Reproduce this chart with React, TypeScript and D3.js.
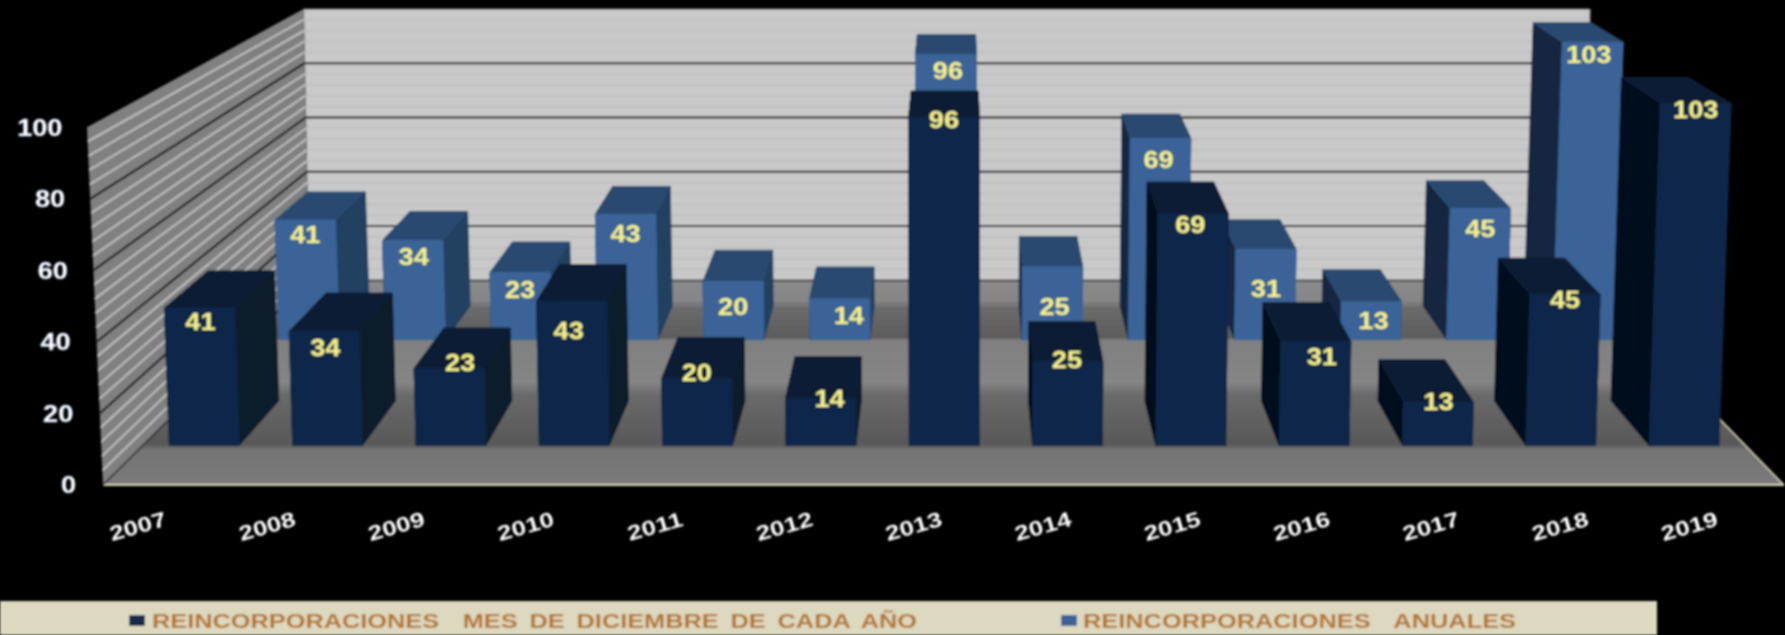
import React from "react";
import * as d3 from "d3";

const years = ["2007","2008","2009","2010","2011","2012","2013","2014","2015","2016","2017","2018","2019"];
const diciembre = [41,34,23,43,20,14,96,25,69,31,13,45,103];
const anuales = [41,34,23,43,20,14,96,25,69,31,13,45,103];
const yTicks = [0,20,40,60,80,100];
const legendLabels = ["REINCORPORACIONES  MES DE DICIEMBRE DE CADA AÑO","REINCORPORACIONES  ANUALES"];

// label nudges relative to the bar's front-face top centre
const frontDx = [1,1,11,-3,0,9,0,-1,-3,6,0,0,0];
const frontDy = [14,16,-6,29,-6,0,2,-2,11,15,0,5,6];
const backDx = [0,1,0,0,0,9,2,2,-2,0,2,0,-4];
const backDy = [15,16,17,19,25,17,16,40,21,39,19,20,13];

const W = 1785, H = 635;
const vx = 958, vy = -364, floorY = 485;
const persp = 0.3175, lean = 0.0000445;

const plane = d3.scaleBand<string>().domain(years).range([103,1784]).paddingInner(0.435).paddingOuter(0.2175);
const wallH = d3.scaleLinear().domain([0,100]).range([0,357.7]);
const barH = d3.scaleLinear().domain([0,69,96,103]).range([0,243,344,359]);

function project(px: number, h: number, z: number, squeeze = 1): [number, number] {
  const d = 1 / (1 + persp * z);
  return [vx + (px - vx) * d * squeeze * (1 + h * lean), vy + (floorY - vy - h) * d];
}
// the walls lean less with depth than the bars do
function wallPt(px: number, h: number, z: number): [number, number] {
  const d = 1 / (1 + persp * z);
  return [vx + (px - vx) * d * (1 + h * (0.0000523 - 0.0000285 * z)), vy + (floorY - vy - h) * d];
}
const poly = d3.line<[number, number]>().x(p => p[0]).y(p => p[1]);
const path = (pts: [number, number][]) => poly(pts)! + "Z";

const frontRow = { z0: 0.153, z1: 0.346, squeeze: 1, front: "#11284a", top: "#0a1c35", right: "#0a1a2b", left: "#050f1a" };
const backRow = { z0: 0.65, z1: 0.842, squeeze: 0.99, front: "#3a6497", top: "#29496f", right: "#233f60", left: "#152841" };

function Bar({ i, v, row }: { i: number; v: number; row: typeof frontRow }) {
  const x0 = plane(years[i])!, x1 = x0 + plane.bandwidth();
  const h = barH(v);
  const { z0, z1, squeeze: s } = row;
  const faces: [string, [number, number][]][] = [
    [row.left, [project(x0,0,z0,s), project(x0,0,z1,s), project(x0,h,z1,s), project(x0,h,z0,s)]],
    [row.right, [project(x1,0,z0,s), project(x1,0,z1,s), project(x1,h,z1,s), project(x1,h,z0,s)]],
    [row.top, [project(x0,h,z0,s), project(x1,h,z0,s), project(x1,h,z1,s), project(x0,h,z1,s)]],
    [row.front, [project(x0,0,z0,s), project(x1,0,z0,s), project(x1,h,z0,s), project(x0,h,z0,s)]],
  ];
  return <g>{faces.map(([c, pts], k) => <path key={k} d={path(pts)} fill={c} stroke={c} strokeWidth={1} strokeLinejoin="round" />)}</g>;
}

function Label({ i, v, row, dx, dy }: { i: number; v: number; row: typeof frontRow; dx: number; dy: number }) {
  const xc = plane(years[i])! + plane.bandwidth() / 2;
  const [x, y] = project(xc, barH(v), row.z0, row.squeeze);
  return (
    <text transform={`translate(${x + dx},${y + dy}) scale(1.18,1)`} textAnchor="middle" dy="0.36em"
      fontFamily="Liberation Sans" fontWeight="bold" fontSize={23} fill="#f6f28c">{v}</text>
  );
}

// painters' order: outer bars first within a row
const order = d3.range(years.length).sort((a, b) =>
  Math.abs(plane(years[b])! + plane.bandwidth() / 2 - vx) - Math.abs(plane(years[a])! + plane.bandwidth() / 2 - vx));

const minor = d3.range(0, 100, 4).filter(t => t % 20 !== 0);
const [px0, px1] = plane.range();

export default function App() {
  const wall = path([wallPt(px0,0,0), wallPt(px0,wallH(100),0), wallPt(px0,wallH(100),1), wallPt(px0,0,1)]);
  const back = path([wallPt(px0,0,1), wallPt(px0,wallH(100),1), wallPt(px1,wallH(100),1), wallPt(px1,0,1)]);
  const floor = path([wallPt(px0,0,0), wallPt(px1,0,0), wallPt(px1,0,1), wallPt(px0,0,1)]);
  return (
    <svg width={W} height={H} viewBox={`0 0 ${W} ${H}`} style={{ position: "fixed", left: 0, top: 0, display: "block", background: "#000" }}>
      <defs>
        <filter id="soft" filterUnits="userSpaceOnUse" x={0} y={0} width={W} height={H}>
          <feGaussianBlur stdDeviation={0.9} />
        </filter>
        <linearGradient id="floorG" gradientUnits="userSpaceOnUse" x1={0} x2={0} y1={280} y2={485}>
          <stop offset={0} stopColor="#8a8a8a" />
          <stop offset={0.1} stopColor="#868686" />
          <stop offset={0.14} stopColor="#6a6a6a" />
          <stop offset={0.28} stopColor="#5c5c5c" />
          <stop offset={0.295} stopColor="#808080" />
          <stop offset={0.5} stopColor="#858585" />
          <stop offset={0.56} stopColor="#6a6a6a" />
          <stop offset={0.8} stopColor="#585858" />
          <stop offset={0.83} stopColor="#747474" />
          <stop offset={1} stopColor="#7a7a7a" />
        </linearGradient>
      </defs>
      <rect width={W} height={H} fill="#000" />
      <g filter="url(#soft)">
        <path d={back} fill="#c9c9c9" stroke="#555" strokeWidth={1} />
        {minor.map(t => {
          const [a, b] = [wallPt(px0,wallH(t),1), wallPt(px1,wallH(t),1)];
          return <line key={t} x1={a[0]} y1={a[1]} x2={b[0]} y2={b[1]} stroke="#c0c0c0" strokeWidth={2} />;
        })}
        <path d={wall} fill="#808080" />
        {minor.map(t => {
          const [a, b] = [wallPt(px0,wallH(t),0), wallPt(px0,wallH(t),1)];
          return <line key={t} x1={a[0]} y1={a[1]} x2={b[0]} y2={b[1]} stroke="#c4c4c4" strokeWidth={1.8} />;
        })}
        {yTicks.slice(1, -1).map(t => {
          const [a, b, c] = [wallPt(px0,wallH(t),0), wallPt(px0,wallH(t),1), wallPt(px1,wallH(t),1)];
          return (
            <g key={t}>
              <line x1={a[0]} y1={a[1]} x2={b[0]} y2={b[1]} stroke="#000" strokeWidth={2} />
              <line x1={b[0]} y1={b[1]} x2={c[0]} y2={c[1]} stroke="#111" strokeWidth={2} />
            </g>
          );
        })}
        <path d={floor} fill="url(#floorG)" />
        <line x1={px0} y1={floorY} x2={px1} y2={floorY} stroke="#d9d5ba" strokeWidth={2} />
        <line x1={px1} y1={floorY} x2={wallPt(px1,0,0.346)[0]} y2={wallPt(px1,0,0.346)[1]} stroke="#d9d5ba" strokeWidth={1.6} />
        <line x1={px0} y1={floorY} x2={wallPt(px0,0,1)[0]} y2={wallPt(px0,0,1)[1]} stroke="#222" strokeWidth={1.5} />
        <line x1={wallPt(px0,0,1)[0]} y1={wallPt(px0,0,1)[1]} x2={wallPt(px1,0,1)[0]} y2={wallPt(px1,0,1)[1]} stroke="#222" strokeWidth={1.5} />

        {order.map(i => <Bar key={i} i={i} v={anuales[i]} row={backRow} />)}
        {anuales.map((v, i) => <Label key={i} i={i} v={v} row={backRow} dx={backDx[i]} dy={backDy[i]} />)}
        {order.map(i => <Bar key={i} i={i} v={diciembre[i]} row={frontRow} />)}
        {diciembre.map((v, i) => <Label key={i} i={i} v={v} row={frontRow} dx={frontDx[i]} dy={frontDy[i]} />)}

        {yTicks.map(t => {
          const [x, y] = project(px0, wallH(t), 0);
          return (
            <text key={t} transform={`translate(${x - 27},${y}) scale(1.18,1)`} textAnchor="end" dy="0.36em"
              fontFamily="Liberation Sans" fontWeight="bold" fontSize={23} fill="#fff" stroke="#bcd8ff" strokeWidth={0.4}>{t}</text>
          );
        })}
        {years.map(y => {
          const xc = plane(y)! + plane.bandwidth() / 2;
          return (
            <text key={y} transform={`translate(${xc - 30},526) rotate(-16) scale(1.24,1)`} textAnchor="middle" dy="0.36em"
              fontFamily="Liberation Sans" fontWeight="bold" fontSize={21} fill="#fff">{y}</text>
          );
        })}

        <rect x={0} y={601} width={1657} height={34} fill="#ddd8c0" />
        <rect x={129} y={615} width={16} height={11} fill="#12294a" />
        <text x={152} y={628} fontFamily="Liberation Sans" fontWeight="bold" fontSize={21} fill="#b3762f"
          textLength={765} lengthAdjust="spacingAndGlyphs" wordSpacing={4} style={{ whiteSpace: "pre" }}>{legendLabels[0]}</text>
        <rect x={1061} y={615} width={16} height={11} fill="#3a6497" />
        <text x={1083} y={628} fontFamily="Liberation Sans" fontWeight="bold" fontSize={21} fill="#b3762f"
          textLength={433} lengthAdjust="spacingAndGlyphs" wordSpacing={4} style={{ whiteSpace: "pre" }}>{legendLabels[1]}</text>
      </g>
    </svg>
  );
}
